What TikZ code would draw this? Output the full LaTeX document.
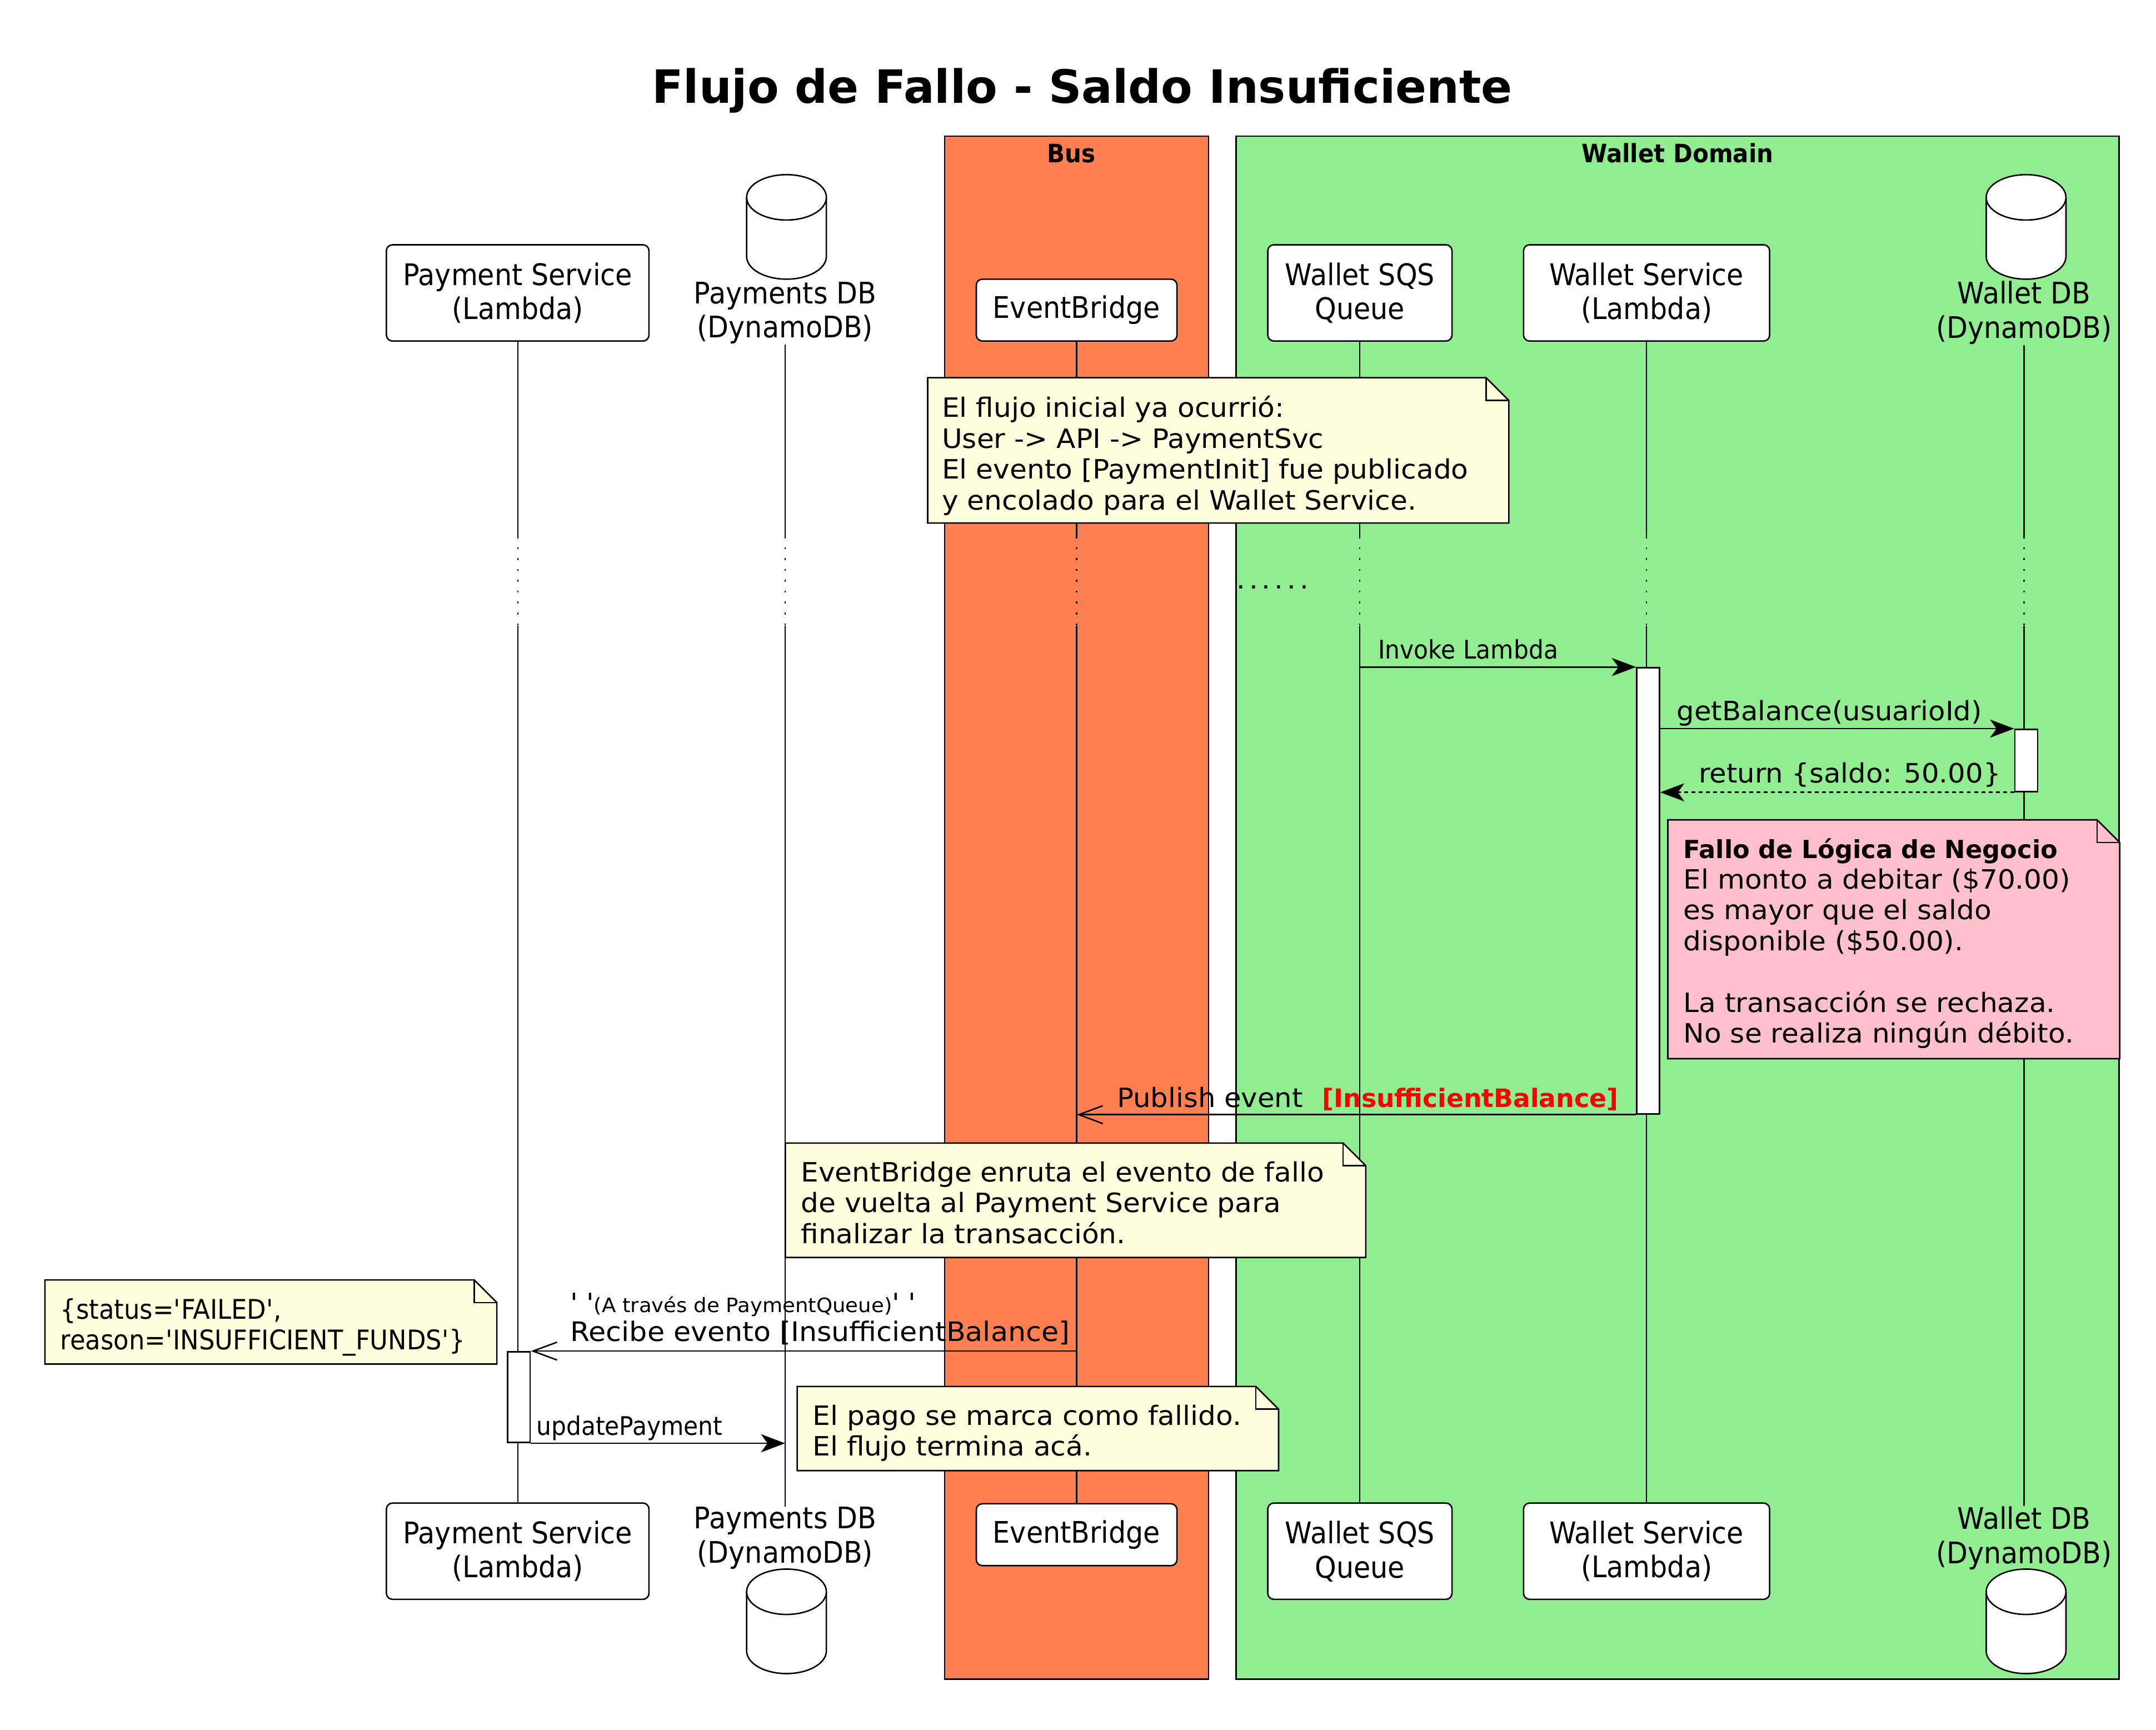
\documentclass[tikz,border=0pt]{standalone}
\usepackage{fontspec}
\setmainfont{DejaVu Sans}
\newfontfamily\condfont[FakeStretch=0.92]{DejaVu Sans}
\newfontfamily\widefont[FakeStretch=1.05]{DejaVu Sans}
\newfontfamily\msgfam[FakeStretch=1.04]{DejaVu Sans}
\usepackage{xcolor}
\usetikzlibrary{arrows.meta,calc}
\definecolor{busOrange}{HTML}{FF7F50}
\definecolor{walletGreen}{HTML}{90EE90}
\definecolor{noteYellow}{HTML}{FEFEDD}
\definecolor{notePink}{HTML}{FFC0CB}
\definecolor{failRed}{HTML}{FF0000}
\newcommand{\titlefont}{\fontsize{19}{23}\selectfont\bfseries}
\newcommand{\partfont}{\condfont\fontsize{12.3}{14.2}\selectfont}
\newcommand{\grouptitlefont}{\condfont\fontsize{10.5}{12}\selectfont\bfseries}
\newcommand{\notefont}{\widefont\fontsize{11}{12.75}\selectfont}
\newcommand{\msgfont}{\msgfam\fontsize{11}{13}\selectfont}
\newcommand{\condmsgfont}{\condfont\fontsize{10.6}{12}\selectfont}
\newcommand{\sq}{\textquotesingle}
\newcommand{\notefold}{0.33cm}
\pgfdeclarelayer{groups}
\pgfdeclarelayer{notes}
\pgfsetlayers{groups,notes,main}
% note outline with the folded corner, drawn under the note text
\newcommand{\foldnote}[2]{%
  \begin{pgfonlayer}{notes}
    \draw[notepath, fill=#2] (#1.north west) -- ([xshift=-\notefold]#1.north east)
      -- ([yshift=-\notefold]#1.north east) -- (#1.south east) -- (#1.south west) -- cycle;
    \draw[notepath] ([xshift=-\notefold]#1.north east) |- ([yshift=-\notefold]#1.north east);
  \end{pgfonlayer}}

\begin{document}
\begin{tikzpicture}[x=0.02cm, y=-0.02cm,
    participant/.style={draw, fill=white, line width=0.6pt, rounded corners=2.5pt, inner sep=0pt, align=center, font=\partfont},
    dblabel/.style={inner sep=0pt, align=center, font=\partfont},
    groupbox/.style={draw, line width=0.6pt},
    grouptitle/.style={anchor=base, inner sep=0pt, font=\grouptitlefont},
    lifeline/.style={line width=0.5pt},
    delaygap/.style={dash pattern=on 0.8pt off 3.7pt},
    actbar/.style={draw, fill=white, line width=0.6pt, inner sep=0pt, minimum width=0.33cm},
    notebox/.style={inner sep=0pt},
    notepath/.style={line width=0.6pt},
    notetext/.style={anchor=north west, inner sep=0pt, align=left, font=\notefont},
    msglabel/.style={anchor=base west, inner sep=0pt, font=\msgfont},
    syncmsg/.style={line width=0.6pt, -{Stealth[length=10pt,width=7.5pt,inset=2.7pt]}},
    asyncmsg/.style={line width=0.6pt, -{Straight Barb[length=10pt,width=7.4pt]}},
    returnmsg/.style={syncmsg, dash pattern=on 1.6pt off 1.4pt},
    dbicon/.pic={
        \fill[white] (-29,16.5) rectangle (29,59.5);
        \fill[white] (0,59.5) ellipse [x radius=0.58cm, y radius=0.33cm];
        \draw[line width=0.6pt] (-29,16.5) -- (-29,59.5)
            arc [start angle=180, end angle=360, x radius=0.58cm, y radius=0.33cm] -- (29,16.5);
        \draw[line width=0.6pt, fill=white] (0,16.5) ellipse [x radius=0.58cm, y radius=0.33cm];
    }]

    \useasboundingbox (0,0) rectangle (1568,1258);

    \node[anchor=base, inner sep=0pt, font=\titlefont] (diagTitle) at (787,75) {Flujo de Fallo - Saldo Insuficiente};

    % participants, top row
    \node[participant, minimum width=3.82cm, minimum height=1.4cm] (ps) at (376.5,213) {Payment Service\\(Lambda)};
    \node[dblabel] (pdb) at (571,227.5) {Payments DB\\(DynamoDB)};
    \node[participant, minimum width=2.92cm, minimum height=0.9cm] (eb) at (783,225.5) {EventBridge};
    \node[participant, minimum width=2.68cm, minimum height=1.4cm] (sqs) at (989,213) {Wallet SQS\\Queue};
    \node[participant, minimum width=3.58cm, minimum height=1.4cm] (ws) at (1197.5,213) {Wallet Service\\(Lambda)};
    \node[dblabel] (wdb) at (1472,227.5) {Wallet DB\\(DynamoDB)};

    % participants, bottom row
    \node[participant, minimum width=3.82cm, minimum height=1.4cm] (psBot) at (376.5,1128) {Payment Service\\(Lambda)};
    \node[dblabel] (pdbBot) at (571,1118.5) {Payments DB\\(DynamoDB)};
    \node[participant, minimum width=2.92cm, minimum height=0.9cm] (ebBot) at (783,1116) {EventBridge};
    \node[participant, minimum width=2.68cm, minimum height=1.4cm] (sqsBot) at (989,1128) {Wallet SQS\\Queue};
    \node[participant, minimum width=3.58cm, minimum height=1.4cm] (wsBot) at (1197.5,1128) {Wallet Service\\(Lambda)};
    \node[dblabel] (wdbBot) at (1472,1118.5) {Wallet DB\\(DynamoDB)};

    \coordinate (delayTop) at (0,390);
    \coordinate (delayBot) at (0,455);

    \begin{pgfonlayer}{groups}
        \draw[groupbox, fill=busOrange] (687,99) rectangle (879,1221);
        \draw[groupbox, fill=walletGreen] (899,99) rectangle (1541,1221);
        \foreach \a/\b in {ps/psBot, pdb/pdbBot, eb/ebBot, sqs/sqsBot, ws/wsBot, wdb/wdbBot} {
            \draw[lifeline] (\a.south) -- (\a.south |- delayTop);
            \draw[lifeline, delaygap] (\a.south |- delayTop) -- (\a.south |- delayBot);
            \draw[lifeline] (\a.south |- delayBot) -- (\b.north);
        }
    \end{pgfonlayer}

    \node[grouptitle] (busTitle) at (779,118) {Bus};
    \node[grouptitle] (walletTitle) at (1220,118) {Wallet Domain};

    \pic (pdbCyl) at (572,127) {dbicon};
    \pic (wdbCyl) at (1473.5,127) {dbicon};
    \pic (pdbCylBot) at (572,1141) {dbicon};
    \pic (wdbCylBot) at (1473.5,1141) {dbicon};

    \node[anchor=base west, inner sep=0pt, font=\msgfont] (delayDots) at (899,428)
        {.\kern1.6pt.\kern1.6pt.\kern1.6pt.\kern1.6pt.\kern1.6pt.};

    % activations
    \node[actbar, minimum height=6.49cm] (wsAct) at (1198.6,647.8) {};
    \node[actbar, minimum height=0.906cm] (wdbAct) at (1473.6,553) {};
    \node[actbar, minimum height=1.32cm] (psAct) at (377.3,1016) {};

    % notes
    \node[notebox, minimum width=8.44cm, minimum height=2.1cm] (initNote) at (886,327.5) {};
    \foldnote{initNote}{noteYellow}
    \node[notetext] (initNoteTxt) at ($(initNote.north west)+(10,13)$)
        {El flujo inicial ya ocurrió:\\User -> API -> PaymentSvc\\El evento [PaymentInit] fue publicado\\y encolado para el Wallet Service.};

    \node[notebox, minimum width=6.56cm, minimum height=3.46cm] (failNote) at (1377.3,683) {};
    \foldnote{failNote}{notePink}
    \node[notetext] (failNoteTxt) at ($(failNote.north west)+(11,13)$)
        {{\rmfamily\bfseries\fontsize{10.3}{12.75}\selectfont Fallo de Lógica de Negocio}\\El monto a debitar (\$70.00)\\es mayor que el saldo\\disponible (\$50.00).\\[12.75pt]La transacción se rechaza.\\No se realiza ningún débito.};

    \node[notebox, minimum width=8.43cm, minimum height=1.65cm] (routeNote) at (782.2,872.8) {};
    \foldnote{routeNote}{noteYellow}
    \node[notetext] (routeNoteTxt) at ($(routeNote.north west)+(11,13)$)
        {EventBridge enruta el evento de fallo\\de vuelta al Payment Service para\\finalizar la transacción.};

    \node[notebox, minimum width=6.56cm, minimum height=1.21cm] (statusNote) at (197,961.3) {};
    \foldnote{statusNote}{noteYellow}
    \node[notetext, font=\condfont\fontsize{11.2}{12.75}\selectfont] (statusNoteTxt) at ($(statusNote.north west)+(11,13)$)
        {\{status=\sq FAILED\sq,\\reason=\sq INSUFFICIENT\_FUNDS\sq\}};

    \node[notebox, minimum width=6.99cm, minimum height=1.21cm] (endNote) at (754.8,1038.8) {};
    \foldnote{endNote}{noteYellow}
    \node[notetext] (endNoteTxt) at ($(endNote.north west)+(11,13)$)
        {El pago se marca como fallido.\\El flujo termina acá.};

    % messages
    \coordinate (sqsInv) at (sqs.south |- wsAct.north);
    \draw[syncmsg] (sqsInv) -- (wsAct.north west);
    \node[msglabel, font=\condmsgfont] (invokeLbl) at ($(sqsInv)+(13,-6)$) {Invoke Lambda};

    \draw[syncmsg] (wsAct.east |- wdbAct.north) -- (wdbAct.north west);
    \node[msglabel] (balanceLbl) at ($(wsAct.east |- wdbAct.north)+(11.7,-6)$) {getBalance(usuarioId)};

    \draw[returnmsg] (wdbAct.south west) -- (wsAct.east |- wdbAct.south);
    \node[msglabel] (returnLbl) at ($(wsAct.east |- wdbAct.south)+(27.7,-7)$) {return \{saldo: 50.00\}};

    \draw[asyncmsg] (wsAct.south west) -- (eb.south |- wsAct.south);
    \node[msglabel] (publishLbl) at ($(eb.south |- wsAct.south)+(29,-5.5)$)
        {Publish event\hspace{8pt}\textcolor{failRed}{\rmfamily\bfseries\fontsize{10.5}{13}\selectfont [InsufficientBalance]}};

    \draw[asyncmsg] (eb.south |- psAct.north) -- (psAct.north east);
    \node[msglabel] (recvVia) at ($(psAct.north east)+(28.5,-28.3)$)
        {\sq\ \sq{\fontsize{8.2}{9}\selectfont(A través de PaymentQueue)}\sq\ \sq};
    \node[msglabel, font=\widefont\fontsize{11.1}{13}\selectfont] (recvLbl) at ($(psAct.north east)+(28.5,-7)$) {Recibe evento [InsufficientBalance]};

    \draw[syncmsg] (psAct.south east) -- (pdb.south |- psAct.south);
    \node[msglabel, font=\condmsgfont] (updateLbl) at ($(psAct.south east)+(3.7,-6)$) {updatePayment};

\end{tikzpicture}
\end{document}
